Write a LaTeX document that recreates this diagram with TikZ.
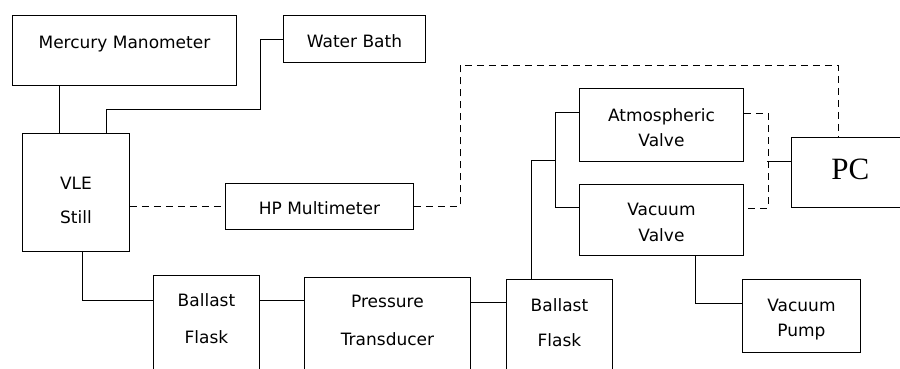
\documentclass[tikz,border=0pt]{standalone}
\usepackage{fontspec}
\newfontfamily\boxfont{DejaVu Sans}
\newfontfamily\pcfont{Liberation Serif}

\begin{document}
\begin{tikzpicture}[x=1pt, y=-1pt,
  box/.style={draw, line width=0.9pt, inner sep=0pt, anchor=north west, align=center,
    font=\boxfont\fontsize{17}{25}\selectfont, text height=12pt, text depth=0pt},
  pipe/.style={line width=0.7pt},
  sig/.style={line width=0.7pt, dash pattern=on 7pt off 5pt}]
  \clip (0,0) rectangle (900,369);

  \node[box, minimum width=224, minimum height=70, text depth=16pt] (mm) at (12,15) {Mercury Manometer};
  \node[box, minimum width=142, minimum height=47, text height=17pt] (wb) at (283,15) {Water Bath};
  \node[box, minimum width=107, minimum height=118, text height=62pt] (vle) at (22,133) {VLE\\[9pt]Still};
  \node[box, minimum width=188, minimum height=46, text height=16pt] (hp) at (225,183) {HP Multimeter};
  \node[box, minimum width=106, minimum height=125, text height=11pt] (bf1) at (153,275) {Ballast\\[12pt]Flask};
  \node[box, minimum width=166, minimum height=123, text height=13pt] (pt) at (304,277) {Pressure\\[13pt]Transducer};
  \node[box, minimum width=106, minimum height=121, text height=13pt] (bf2) at (506,279) {Ballast\\[10pt]Flask};
  \node[box, minimum width=164, minimum height=73, text height=43pt] (av) at (579,88) {Atmospheric\\Valve};
  \node[box, minimum width=164, minimum height=71, text height=43pt] (vv) at (579,184) {Vacuum\\[1pt]Valve};
  \node[box, minimum width=118, minimum height=73, text height=41pt] (vp) at (742,279) {Vacuum\\Pump};
  \node[box, minimum width=118, minimum height=70, text height=14pt, font=\pcfont\fontsize{31}{36}\selectfont] (pc) at (791,137) {PC};

  \draw[pipe] ([xshift=-16.5pt]vle.north) -- ([xshift=-16.5pt]vle.north |- mm.south);
  \draw[pipe] ([xshift=30.5pt]vle.north) -- ++(0,-24) -| ([xshift=-23pt]wb.west) -- (wb.west);
  \draw[pipe] ([xshift=6.5pt]vle.south) |- ([yshift=-25pt]bf1.north west);
  \draw[pipe] ([yshift=-25pt]bf1.north east) coordinate (f1) -- (f1 -| pt.west);
  \draw[pipe] ([yshift=-25pt]pt.north east) coordinate (p2) -- (p2 -| bf2.west);
  \draw[pipe] ([yshift=-24pt]av.north west) -- ++(-24,0) coordinate (jn) |- ([yshift=-23pt]vv.north west);
  \draw[pipe] ([xshift=-28pt]bf2.north) |- (jn |- 0,160);
  \draw[pipe] ([xshift=34pt]vv.south) |- ([yshift=-24pt]vp.north west);
  \draw[pipe] ([yshift=-24pt]pc.north west) -- ++(-24,0);

  \draw[sig] ([yshift=-25pt]av.north east) -- ++(24,0) |- ([yshift=-24pt]vv.north east);
  \draw[sig] (hp.west -| vle.east) -- (hp.west);
  \draw[sig] (hp.east) -- ++(46,0) -- ++(0,-141) -| ([xshift=-12pt]pc.north);
\end{tikzpicture}
\end{document}
